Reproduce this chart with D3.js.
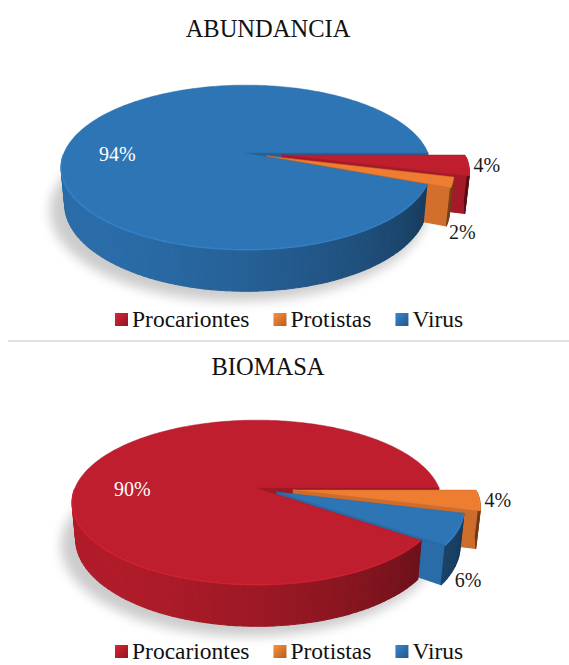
<!DOCTYPE html>
<html>
<head>
<meta charset="utf-8">
<script src="https://cdn.jsdelivr.net/npm/d3@7"></script>
<style>
  body { margin: 0; background: #fff; }
  svg { display: block; }
  svg text { font-family: "Liberation Serif", "DejaVu Serif", "Times New Roman", serif; }
</style>
</head>
<body>
<svg id="chart" width="569" height="665"></svg>
<script>
// data
const categories = ["Procariontes", "Protistas", "Virus"];
const abundancia = [4, 2, 94];
const biomasa = [90, 4, 6];
const chartTitles = ["ABUNDANCIA", "BIOMASA"];

const serif = "'Liberation Serif', 'DejaVu Serif', 'Times New Roman', serif";

const color = d3.scaleOrdinal()
  .domain(categories)
  .range(["#BE1E2D", "#ED7D31", "#2E75B6"]);

// 3d view of the pies (radius units)
const tilt = 26 * Math.PI / 180,
  dist = 5.11,
  radius = 182,
  thick = 0.225;
const f = radius * dist;
const cosT = Math.cos(tilt), sinT = Math.sin(tilt);
const viewDir = [0, cosT, sinT];
const light = [-0.8, 0.6];

function project(p, cx, cy) {
  const d = dist - p[1] * cosT - p[2] * sinT;
  return [cx + f * p[0] / d, cy + f * (p[1] * sinT - p[2] * cosT) / d, d];
}

const layouts = [
  { title: chartTitles[0], values: abundancia, cx: 246, cy: 153, titleY: 37, legendY: 327, firstAngle: 90, explode: [0.2, 0.12, 0] },
  { title: chartTitles[1], values: biomasa, cx: 257, cy: 488, titleY: 375, legendY: 659, firstAngle: 126, explode: [0, 0.2, 0.12] }
];

const svg = d3.select("#chart");
const defs = svg.append("defs");
defs.append("filter")
  .attr("id", "shadowBlur")
  .attr("x", "-30%").attr("y", "-30%").attr("width", "160%").attr("height", "160%")
  .append("feGaussianBlur")
  .attr("stdDeviation", 6);

categories.forEach((c, i) => {
  const grad = defs.append("linearGradient")
    .attr("id", "key" + i)
    .attr("x1", 0).attr("y1", 0).attr("x2", 1).attr("y2", 1);
  grad.append("stop").attr("offset", "0%").attr("stop-color", d3.color(color(c)).brighter(0.4));
  grad.append("stop").attr("offset", "100%").attr("stop-color", d3.color(color(c)).darker(0.8));
});

const line = d3.line();

function drawPie(layout) {
  const g = svg.append("g");
  const proj = p => project(p, layout.cx, layout.cy);
  const start = layout.firstAngle * Math.PI / 180;
  const pie = d3.pie()
    .sort(null)
    .value(d => d)
    .startAngle(start)
    .endAngle(start + 2 * Math.PI);
  const arcs = pie(layout.values);

  const slices = arcs.map((a, i) => {
    const mid = (a.startAngle + a.endAngle) / 2;
    const e = layout.explode[i];
    const ox = e * Math.sin(mid), oy = -e * Math.cos(mid);
    const pt = (ang, r, z) => [ox + r * Math.sin(ang), oy - r * Math.cos(ang), z];
    return { a, i, mid, pt, base: d3.color(color(categories[i])) };
  });

  // soft shadow under the pie
  const shadow = d3.range(0, 361, 3).map(deg => {
    const t = deg * Math.PI / 180;
    return proj([1.03 * Math.sin(t) - 0.04, -1.03 * Math.cos(t) + 0.05, -thick]).slice(0, 2);
  });
  g.append("path")
    .attr("d", line(shadow) + "Z")
    .attr("fill", "#000")
    .attr("opacity", 0.2)
    .attr("filter", "url(#shadowBlur)");

  const faces = [];
  const rims = [];
  function addFace(pts, normal, base) {
    const facing = normal[0] * viewDir[0] + normal[1] * viewDir[1];
    if (facing <= 0.02) return false;
    const pp = pts.map(proj);
    const depth = d3.mean(pp, p => p[2]);
    const t = (normal[0] * light[0] + normal[1] * light[1] + 1) / 2;
    const fill = d3.interpolateRgb(base.darker(2.7), base.darker(0.2))(t);
    faces.push({ pts: pp.map(p => p.slice(0, 2)), depth, fill });
    return true;
  }

  slices.forEach(s => {
    const a0 = s.a.startAngle, a1 = s.a.endAngle;
    const n = Math.max(2, Math.ceil((a1 - a0) / (Math.PI / 90)));
    const step = (a1 - a0) / n;
    for (let k = 0; k < n; k++) {
      const b0 = a0 + k * step, b1 = b0 + step, bm = b0 + step / 2;
      const quad = [s.pt(b0, 1, 0), s.pt(b1, 1, 0), s.pt(b1, 1, -thick), s.pt(b0, 1, -thick)];
      if (addFace(quad, [Math.sin(bm), -Math.cos(bm), 0], s.base)) {
        rims.push({ pts: [proj(quad[0]).slice(0, 2), proj(quad[1]).slice(0, 2)], base: s.base });
      }
    }
    // radial faces at both cut edges
    [[a0, [-Math.cos(a0), -Math.sin(a0), 0]], [a1, [Math.cos(a1), Math.sin(a1), 0]]].forEach(([ang, nrm]) => {
      const quad = [s.pt(ang, 0, 0), s.pt(ang, 1, 0), s.pt(ang, 1, -thick), s.pt(ang, 0, -thick)];
      addFace(quad, nrm, s.base);
    });
  });

  faces.sort((p, q) => q.depth - p.depth);
  g.selectAll(".wall")
    .data(faces)
    .enter()
    .append("path")
    .attr("class", "wall")
    .attr("d", d => line(d.pts) + "Z")
    .attr("fill", d => d.fill)
    .attr("stroke", d => d.fill)
    .attr("stroke-width", 1.1)
    .attr("stroke-linejoin", "round");

  // top faces
  g.selectAll(".top")
    .data(slices)
    .enter()
    .append("path")
    .attr("class", "top")
    .attr("d", s => {
      const a0 = s.a.startAngle, a1 = s.a.endAngle;
      const n = Math.max(2, Math.ceil((a1 - a0) / (Math.PI / 180)));
      const pts = [proj(s.pt(0, 0, 0))];
      for (let k = 0; k <= n; k++) pts.push(proj(s.pt(a0 + (a1 - a0) * k / n, 1, 0)));
      return line(pts.map(p => p.slice(0, 2))) + "Z";
    })
    .attr("fill", s => s.base)
    .attr("stroke", s => s.base.darker(0.3))
    .attr("stroke-width", 0.5);

  // bevel highlight along the front rim
  g.selectAll(".rim")
    .data(rims)
    .enter()
    .append("path")
    .attr("class", "rim")
    .attr("d", d => line(d.pts))
    .attr("stroke", d => d.base.brighter(0.8))
    .attr("stroke-width", 1.4)
    .attr("stroke-opacity", 0.45)
    .attr("fill", "none");

  // data labels
  slices.forEach(s => {
    const txt = layout.values[s.i] + "%";
    const rel = ((s.mid - Math.PI / 2) % (2 * Math.PI) + 2 * Math.PI) % (2 * Math.PI);
    const label = g.append("text")
      .attr("font-family", serif)
      .attr("font-size", 20);
    if (layout.values[s.i] >= 50) {
      const p = proj([0.72 * Math.sin(s.mid), 0, 0]);
      label.attr("x", p[0]).attr("y", p[1] + 8)
        .attr("text-anchor", "middle")
        .attr("fill", "#fff");
    } else if (rel < Math.PI / 18) {
      const p = proj(s.pt(s.mid, 1, 0));
      label.attr("x", p[0] + 5).attr("y", p[1] + 7)
        .attr("text-anchor", "start")
        .attr("fill", "#1a1a1a");
    } else {
      const p = proj(s.pt(s.mid, 1, -thick));
      label.attr("x", p[0] + 14).attr("y", p[1] + 19)
        .attr("text-anchor", "middle")
        .attr("fill", "#1a1a1a");
    }
    label.text(txt);
  });

  // title
  svg.append("text")
    .attr("x", 268)
    .attr("y", layout.titleY)
    .attr("text-anchor", "middle")
    .attr("font-family", serif)
    .attr("font-size", 24.5)
    .attr("fill", "#111")
    .text(layout.title);

  // legend
  const legend = svg.append("g").attr("transform", `translate(115,${layout.legendY})`);
  let x = 0;
  categories.forEach((c, i) => {
    legend.append("rect")
      .attr("x", x).attr("y", -14)
      .attr("width", 13).attr("height", 13)
      .attr("fill", `url(#key${i})`);
    const t = legend.append("text")
      .attr("x", x + 17).attr("y", 0)
      .attr("font-family", serif)
      .attr("font-size", 23.5)
      .attr("fill", "#111")
      .text(c);
    x += 17 + t.node().getComputedTextLength() + 24;
  });
}

layouts.forEach(drawPie);

// separator between the two charts
svg.append("line")
  .attr("x1", 8).attr("x2", 569)
  .attr("y1", 341).attr("y2", 341)
  .attr("stroke", "#d9d9d9")
  .attr("stroke-width", 1.5);
</script>
</body>
</html>
